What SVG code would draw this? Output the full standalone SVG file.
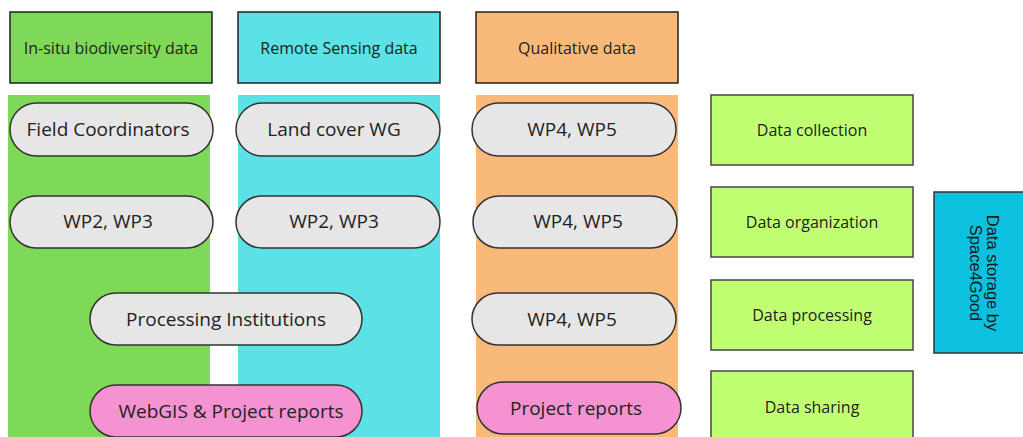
<svg xmlns="http://www.w3.org/2000/svg" width="1023" height="437" viewBox="0 0 1023 437">
<style>
.hdr{stroke:#222;stroke-width:1.5}
.pill{fill:#e6e6e6;stroke:#333;stroke-width:1.5}
.pink{fill:#f492d2;stroke:#333;stroke-width:1.5}
.box{fill:#c1ff72;stroke:#444;stroke-width:1.5}
.t{font-family:"Open Sans","Noto Sans",sans-serif;fill:#222;text-anchor:middle;dominant-baseline:central}
.h{font-size:16px}
.p{font-size:19px}
.b{font-size:16px}
</style>
<rect width="1023" height="437" fill="#fff"/>
<g id="columns">
<rect x="8" y="95" width="202" height="342" fill="#7ed957"/>
<rect x="238" y="95" width="202" height="342" fill="#5ce1e6"/>
<rect x="476" y="95" width="202" height="342" fill="#f9b97a"/>
</g>
<g id="connectors"></g>
<g id="hdr-insitu"><rect class="hdr" x="10" y="12" width="202" height="71" fill="#7ed957"/><text class="t h" x="111" y="48">In-situ biodiversity data</text></g>
<g id="hdr-remote"><rect class="hdr" x="238" y="12" width="202" height="71" fill="#5ce1e6"/><text class="t h" x="339" y="48">Remote Sensing data</text></g>
<g id="hdr-qual"><rect class="hdr" x="476" y="12" width="202" height="71" fill="#f9b97a"/><text class="t h" x="577" y="48">Qualitative data</text></g>
<g id="field-coord"><rect class="pill" x="10" y="103" width="203" height="53" rx="26.5"/><text class="t p" x="108" y="129">Field Coordinators</text></g>
<g id="land-cover"><rect class="pill" x="236" y="103" width="204" height="53" rx="26.5"/><text class="t p" x="334" y="129">Land cover WG</text></g>
<g id="wp45-1"><rect class="pill" x="472" y="103" width="204" height="53" rx="26.5"/><text class="t p" x="572" y="129">WP4, WP5</text></g>
<g id="wp23-1"><rect class="pill" x="10" y="196" width="203" height="52" rx="26"/><text class="t p" x="108" y="221">WP2, WP3</text></g>
<g id="wp23-2"><rect class="pill" x="236" y="196" width="204" height="52" rx="26"/><text class="t p" x="334" y="221">WP2, WP3</text></g>
<g id="wp45-2"><rect class="pill" x="473" y="196" width="204" height="52" rx="26"/><text class="t p" x="578" y="221">WP4, WP5</text></g>
<g id="proc-inst"><rect class="pill" x="90" y="293" width="272" height="52" rx="26"/><text class="t p" x="226" y="319">Processing Institutions</text></g>
<g id="wp45-3"><rect class="pill" x="472" y="293" width="204" height="52" rx="26"/><text class="t p" x="572" y="319">WP4, WP5</text></g>
<g id="webgis"><rect class="pink" x="90" y="385" width="272" height="52" rx="26"/><text class="t p" x="231" y="411">WebGIS &amp; Project reports</text></g>
<g id="proj-reports"><rect class="pink" x="477" y="382" width="204" height="52" rx="26"/><text class="t p" x="576" y="408">Project reports</text></g>
<g id="data-collection"><rect class="box" x="711" y="95" width="202" height="70"/><text class="t b" x="812" y="130">Data collection</text></g>
<g id="data-organization"><rect class="box" x="711" y="187" width="202" height="70"/><text class="t b" x="812" y="222">Data organization</text></g>
<g id="data-processing"><rect class="box" x="711" y="280" width="202" height="70"/><text class="t b" x="812" y="315">Data processing</text></g>
<g id="data-sharing"><rect class="box" x="711" y="371" width="202" height="72"/><text class="t b" x="812" y="407">Data sharing</text></g>
<g id="data-storage"><rect x="934" y="192" width="95" height="161" fill="#0cc0df" stroke="#333" stroke-width="1.5"/>
<text transform="translate(978,273) rotate(90)" font-family="Liberation Sans, Arial, sans-serif" font-size="16.5" fill="#1a1a1a" text-anchor="middle"><tspan x="0" y="-9">Data storage by</tspan><tspan x="0" y="8">Space4Good</tspan></text></g>
</svg>
